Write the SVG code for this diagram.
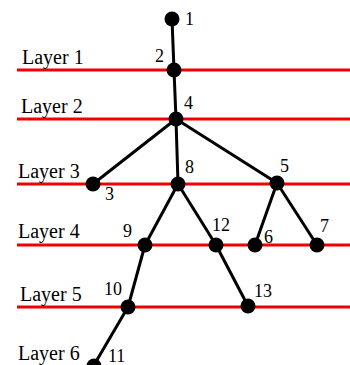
<svg xmlns="http://www.w3.org/2000/svg" width="350" height="365" viewBox="0 0 350 365" font-family="'Liberation Serif', 'Times New Roman', Times, serif" font-size="18">
<style>
.layer{stroke:#ff0000;stroke-width:3;fill:none}
.layerdot{stroke:#990000;stroke-width:1;stroke-dasharray:1 1;fill:none;opacity:0.6}
.edge{stroke:#000;stroke-width:3;fill:none}
.node{fill:#000}
text{font-family:'Liberation Serif','Times New Roman',Times,serif;font-size:18px;fill:#000}
text.lbl{font-size:20px}
</style>
<rect width="350" height="365" fill="#fff"/>
<g id="layers">
<line class="layer" x1="17" y1="70" x2="350" y2="70"/>
<line class="layer" x1="17" y1="119" x2="350" y2="119"/>
<line class="layer" x1="17" y1="184" x2="350" y2="184"/>
<line class="layer" x1="17" y1="245" x2="350" y2="245"/>
<line class="layer" x1="17" y1="307" x2="350" y2="307"/>
<line class="layerdot" x1="17" y1="70" x2="350" y2="70"/>
<line class="layerdot" x1="17" y1="119" x2="350" y2="119"/>
<line class="layerdot" x1="17" y1="184" x2="350" y2="184"/>
<line class="layerdot" x1="17" y1="245" x2="350" y2="245"/>
<line class="layerdot" x1="17" y1="307" x2="350" y2="307"/>
<text class="lbl" x="22" y="64">Layer 1</text>
<text class="lbl" x="21" y="113">Layer 2</text>
<text class="lbl" x="18" y="178">Layer 3</text>
<text class="lbl" x="18" y="238">Layer 4</text>
<text class="lbl" x="20" y="301">Layer 5</text>
<text class="lbl" x="18" y="360">Layer 6</text>
</g>
<g id="connectors">
<line class="edge" x1="172" y1="19" x2="174" y2="70"/>
<line class="edge" x1="174" y1="70" x2="176" y2="119"/>
<line class="edge" x1="176" y1="119" x2="93" y2="184"/>
<line class="edge" x1="176" y1="119" x2="178" y2="184"/>
<line class="edge" x1="176" y1="119" x2="277" y2="183"/>
<line class="edge" x1="178" y1="184" x2="145" y2="245"/>
<line class="edge" x1="178" y1="184" x2="216" y2="245"/>
<line class="edge" x1="277" y1="183" x2="255" y2="245"/>
<line class="edge" x1="277" y1="183" x2="317" y2="245"/>
<line class="edge" x1="145" y1="245" x2="128" y2="307"/>
<line class="edge" x1="216" y1="245" x2="248" y2="306"/>
<line class="edge" x1="128" y1="307" x2="94" y2="365"/>
</g>
<g id="n1"><circle class="node" cx="172" cy="19" r="7.5"/><text x="185" y="25">1</text></g>
<g id="n2"><circle class="node" cx="174" cy="70" r="7.5"/><text x="155" y="62">2</text></g>
<g id="n4"><circle class="node" cx="176" cy="119" r="7.5"/><text x="184" y="109">4</text></g>
<g id="n3"><circle class="node" cx="93" cy="184" r="7.5"/><text x="105" y="200">3</text></g>
<g id="n8"><circle class="node" cx="178" cy="184" r="7.5"/><text x="185" y="173">8</text></g>
<g id="n5"><circle class="node" cx="277" cy="183" r="7.5"/><text x="280" y="172">5</text></g>
<g id="n9"><circle class="node" cx="145" cy="245" r="7.5"/><text x="123" y="237">9</text></g>
<g id="n12"><circle class="node" cx="216" cy="245" r="7.5"/><text x="212" y="231">12</text></g>
<g id="n6"><circle class="node" cx="255" cy="245" r="7.5"/><text x="264" y="243">6</text></g>
<g id="n7"><circle class="node" cx="317" cy="245" r="7.5"/><text x="320" y="232">7</text></g>
<g id="n10"><circle class="node" cx="128" cy="307" r="7.5"/><text x="104" y="295">10</text></g>
<g id="n13"><circle class="node" cx="248" cy="306" r="7.5"/><text x="254" y="297">13</text></g>
<g id="n11"><circle class="node" cx="94" cy="366" r="7.5"/><text x="108" y="362">11</text></g>
</svg>
